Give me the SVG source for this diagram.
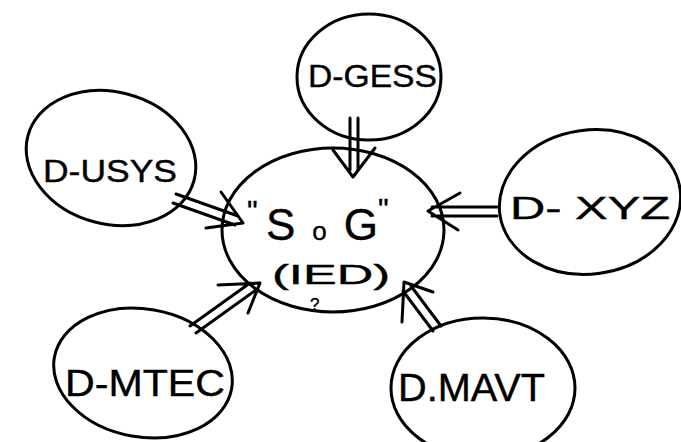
<svg xmlns="http://www.w3.org/2000/svg" width="681" height="442" viewBox="0 0 681 442">
<style>
.n{fill:none;stroke:#000;stroke-width:3;stroke-linecap:round;stroke-linejoin:round}
.c path{fill:none;stroke:#000;stroke-width:3;stroke-linecap:round;stroke-linejoin:round}
text{font-family:"Liberation Sans","DejaVu Sans",sans-serif;fill:#000;stroke:#000;stroke-width:0.4}
</style>
<rect width="681" height="442" fill="#fff"/>
<g id="node-sog">
<ellipse class="n" cx="333" cy="230" rx="111" ry="82"/>
<text x="247" y="221" font-size="30">"</text>
<text x="378" y="219" font-size="30">"</text>
<text x="266" y="240" font-size="44" textLength="112" lengthAdjust="spacing">S<tspan font-size="26">o</tspan>G</text>
<text x="272" y="284" font-size="28" textLength="118" lengthAdjust="spacingAndGlyphs">(IED)</text>
<text x="310" y="310" font-size="17">?</text>
</g>
<g id="node-gess">
<ellipse class="n" cx="369" cy="77" rx="72" ry="63"/>
<text x="308" y="87" font-size="31" textLength="129" lengthAdjust="spacingAndGlyphs">D-GESS</text>
</g>
<g id="node-usys">
<ellipse class="n" cx="111" cy="158" rx="86" ry="66" transform="rotate(15 111 158)"/>
<text x="43" y="182" font-size="32" textLength="134" lengthAdjust="spacingAndGlyphs">D-USYS</text>
</g>
<g id="node-xyz">
<ellipse class="n" cx="590" cy="202" rx="91" ry="72" transform="rotate(-8 590 202)"/>
<text x="510" y="219" font-size="32" textLength="160" lengthAdjust="spacingAndGlyphs">D- XYZ</text>
</g>
<g id="node-mtec">
<ellipse class="n" cx="143" cy="373" rx="90" ry="64" transform="rotate(10 143 373)"/>
<text x="65" y="396" font-size="36" textLength="160" lengthAdjust="spacingAndGlyphs">D-MTEC</text>
</g>
<g id="node-mavt">
<ellipse class="n" cx="483" cy="388" rx="92" ry="70"/>
<text x="398" y="401" font-size="38" textLength="147" lengthAdjust="spacingAndGlyphs">D.MAVT</text>
</g>
<g id="connectors" class="c">
<path d="M350 118 V170 M358 118 V170 M333 150 L353 177 L375 148"/>
<path d="M176 194 L238 216 M173 203 L235 225 M221 192 L243 223 L206 228"/>
<path d="M497 207 H432 M497 216 H432 M460 193 L428 211 L458 230"/>
<path d="M190 326 L250 283 M196 333 L256 290 M218 285 L260 283 L248 313"/>
<path d="M433 331 L403 291 M441 326 L411 286 M402 322 L404 282 L433 292"/>
</g>
</svg>
